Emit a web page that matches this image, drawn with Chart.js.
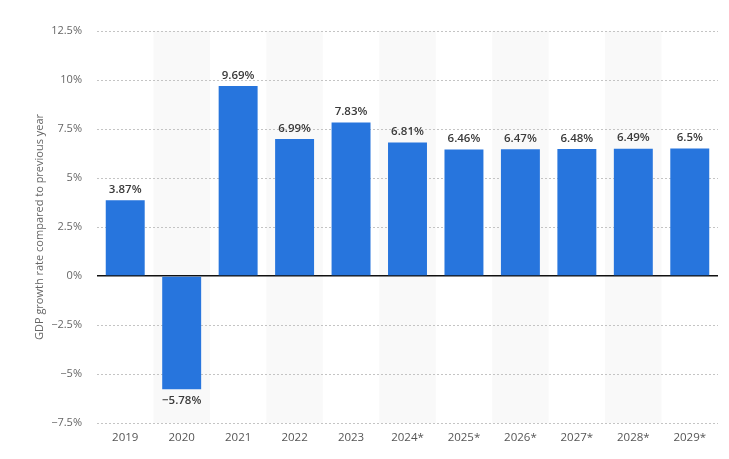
<!DOCTYPE html>
<html>
<head>
<meta charset="utf-8">
<script src="https://cdn.jsdelivr.net/npm/chart.js@4.4.1/dist/chart.umd.min.js"></script>
<style>
html,body{margin:0;padding:0;background:#fff;}
#wrap{width:729px;height:459px;position:relative;}
</style>
</head>
<body>
<div id="wrap"><canvas id="c" width="729" height="459"></canvas></div>
<script>
const categories = ['2019','2020','2021','2022','2023','2024*','2025*','2026*','2027*','2028*','2029*'];
const growthValues = [3.87, -5.78, 9.69, 6.99, 7.83, 6.81, 6.46, 6.47, 6.48, 6.49, 6.5];
const yTickValues = [-7.5, -5, -2.5, 0, 2.5, 5, 7.5, 10, 12.5];
const yAxisTitle = 'GDP growth rate compared to previous year';

function fmt(v){
  const s = (Math.abs(v)) + '%';
  return v < 0 ? '\u2212' + s : s;
}

const bandPlugin = {
  id: 'bands',
  beforeDraw(chart){
    const {ctx, chartArea, scales} = chart;
    const x = scales.x;
    const w = (x.right - x.left) / categories.length;
    ctx.save();
    ctx.fillStyle = '#f9f9f9';
    for (let i = 1; i < categories.length; i += 2){
      const cx = x.getPixelForValue(i);
      ctx.fillRect(cx - w/2, chartArea.top, w, chartArea.bottom - chartArea.top);
    }
    ctx.restore();
  }
};

const labelPlugin = {
  id: 'valueLabels',
  afterDatasetsDraw(chart){
    const {ctx} = chart;
    const meta = chart.getDatasetMeta(0);
    ctx.save();
    ctx.font = '600 11.5px "Open Sans", sans-serif';
    ctx.fillStyle = '#3a3a3a';
    ctx.textAlign = 'center';
    meta.data.forEach((bar, i) => {
      const v = growthValues[i];
      if (v >= 0){
        ctx.textBaseline = 'bottom';
        ctx.fillText(fmt(v), bar.x, bar.y - 5);
      } else {
        ctx.textBaseline = 'top';
        ctx.fillText(fmt(v), bar.x, bar.y + 6);
      }
    });
    ctx.restore();
  }
};

new Chart(document.getElementById('c'), {
  type: 'bar',
  data: {
    labels: categories,
    datasets: [{
      data: growthValues,
      backgroundColor: '#2775dd',
      borderWidth: 0,
      barPercentage: 0.69,
      categoryPercentage: 1.0
    }]
  },
  options: {
    responsive: false,
    animation: false,
    devicePixelRatio: 1,
    layout: { padding: { top: 31, right: 11, bottom: 0, left: 0 } },
    plugins: { legend: { display: false }, tooltip: { enabled: false } },
    scales: {
      x: {
        grid: { display: false, drawTicks: false },
        border: { display: false },
        ticks: {
          padding: 8,
          color: '#555555',
          font: { family: '"Open Sans", sans-serif', size: 11.5 },
          maxRotation: 0
        },
        afterFit(scale){ scale.height = 36; }
      },
      y: {
        min: -7.5,
        max: 12.5,
        afterBuildTicks(scale){ scale.ticks = yTickValues.map(v => ({value: v})); },
        grid: {
          drawTicks: false,
          color: ctx => ctx.tick && ctx.tick.value === 0 ? '#111111' : '#c4c4c4',
          lineWidth: ctx => ctx.tick && ctx.tick.value === 0 ? 1.5 : 1
        },
        border: {
          display: false,
          dash: ctx => ctx.tick && ctx.tick.value === 0 ? [] : [2, 2]
        },
        ticks: {
          padding: 15,
          color: '#666666',
          font: { family: '"Open Sans", sans-serif', size: 11 },
          callback: v => fmt(v)
        },
        title: {
          display: true,
          text: yAxisTitle,
          color: '#666666',
          font: { family: '"Open Sans", sans-serif', size: 11 },
          padding: { top: 33, bottom: 0 }
        },
        afterFit(scale){ scale.width = 97; }
      }
    }
  },
  plugins: [bandPlugin, labelPlugin]
});
</script>
</body>
</html>
